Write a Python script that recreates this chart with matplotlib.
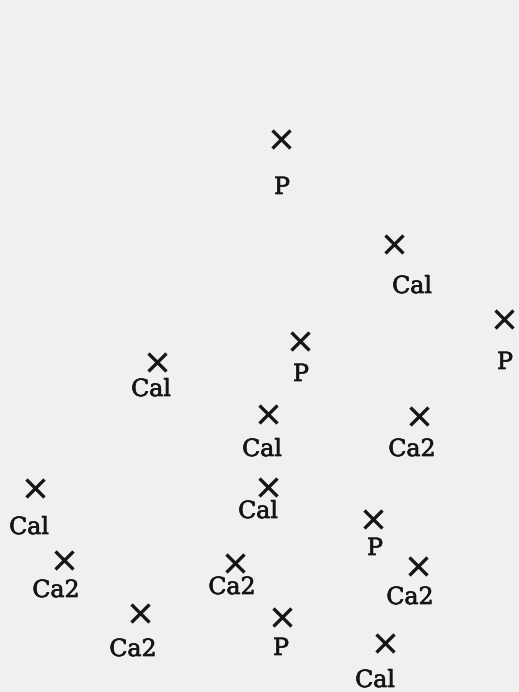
import matplotlib
matplotlib.use("Agg")
import matplotlib.pyplot as plt
import matplotlib.patheffects as pe

# Site positions and their phase labels
x_pos = [281, 394, 504, 157, 300, 268, 419, 35, 268, 373, 64, 235, 418, 140, 282, 385]
y_pos = [553, 448, 373, 330, 351, 278, 276, 204, 205, 173, 132, 129, 126, 79, 75, 49]
labels = ["P", "Cal", "P", "Cal", "P", "Cal", "Ca2", "Cal", "Cal", "P",
          "Ca2", "Ca2", "Ca2", "Ca2", "P", "Cal"]

# Label placement relative to each marker (pixels: right, down)
label_offsets = [(1, 46), (18, 40), (1, 41), (-6, 25), (1, 31), (-6, 33), (-7, 31),
                 (-6, 37), (-10, 22), (2, 27), (-8, 28), (-3, 22), (-8, 29),
                 (-7, 34), (-1, 29), (-10, 35)]

W, H, DPI = 519, 692, 100
bg = "#f0f0f0"
ink = "#151515"

fig = plt.figure(figsize=(W / DPI, H / DPI), dpi=DPI, facecolor=bg)
ax = fig.add_axes([0, 0, 1, 1])
ax.set_facecolor(bg)
ax.set_xlim(0, W)
ax.set_ylim(0, H)
ax.axis("off")

ax.plot(x_pos, y_pos, linestyle="none", marker="x", markersize=13,
        markeredgewidth=2.4, color=ink)

cap_half = 9  # half cap height in pixels, to centre labels on their caps
heavier = [pe.withStroke(linewidth=0.5, foreground=ink)]
for x, y, lab, (dx, dy) in zip(x_pos, y_pos, labels, label_offsets):
    ax.annotate(lab, (x, y), xytext=(dx, -(dy + cap_half)), textcoords="offset pixels",
                ha="center", va="baseline", fontsize=17, family="DejaVu Serif",
                color=ink, path_effects=heavier, annotation_clip=False)

fig.savefig("out.png", dpi=DPI, facecolor=bg)
